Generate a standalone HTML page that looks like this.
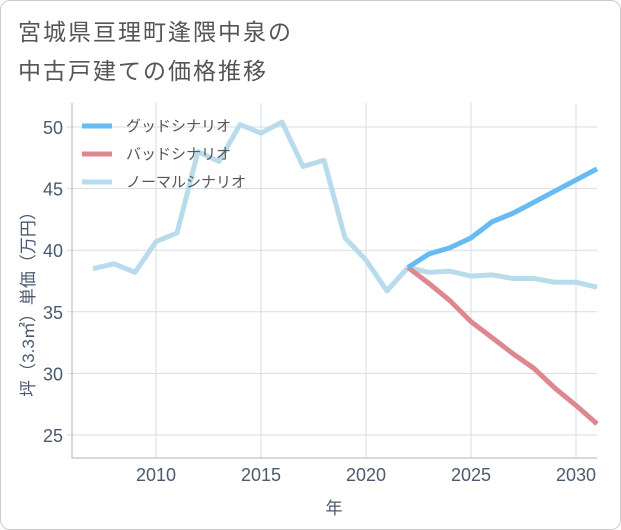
<!DOCTYPE html>
<html><head><meta charset="utf-8"><style>
body{margin:0;background:#fff;font-family:"Liberation Sans","Noto Sans CJK JP",sans-serif;}
.card{position:absolute;left:0;top:0;width:619px;height:528px;border:1px solid #ccc;border-radius:10px;background:#fff;}
.title{position:absolute;left:17px;top:12px;font-size:23px;letter-spacing:2px;line-height:39px;color:#555;}
</style></head><body>
<div class="card">
<div class="title">宮城県亘理町逢隈中泉の<br>中古戸建ての価格推移</div>
<svg id="chart" width="621" height="530" style="position:absolute;left:-1px;top:-1px"></svg>
</div>
<script>
const years=[2007,2008,2009,2010,2011,2012,2013,2014,2015,2016,2017,2018,2019,2020,2021,2022,2023,2024,2025,2026,2027,2028,2029,2030,2031];
const normal=[38.5,38.9,38.2,40.7,41.4,48.0,47.2,50.2,49.5,50.4,46.8,47.3,41.0,39.2,36.7,38.6,38.2,38.3,37.9,38.0,37.7,37.7,37.4,37.4,37.0];
const futureYears=[2022,2023,2024,2025,2026,2027,2028,2029,2030,2031];
const good=[38.6,39.7,40.2,41.0,42.3,43.0,43.9,44.8,45.7,46.6];
const bad=[38.6,37.3,35.9,34.2,32.9,31.6,30.4,28.8,27.4,25.9];
const xTicks=[2010,2015,2020,2025,2030];
const yTicks=[25,30,35,40,45,50];
const L=72,R=597,T=103,B=458;
const x=v=>156+(v-2010)*21;
const y=v=>127+(50-v)*12.32;
const svg=document.getElementById('chart');
const NS='http://www.w3.org/2000/svg';
function mk(t,a){const e=document.createElementNS(NS,t);for(const k in a)e.setAttribute(k,a[k]);svg.appendChild(e);return e;}
xTicks.forEach(v=>{const l=mk('line',{x1:x(v),x2:x(v),y1:T,y2:B,stroke:'#d5dde6','stroke-width':1});


const t=mk('text',{x:x(v),y:B+23,'text-anchor':'middle','font-size':18,fill:'#4a5a6e'});t.textContent=v;

});
yTicks.forEach(v=>{const l=mk('line',{x1:L-5,x2:R,y1:y(v),y2:y(v),stroke:'#d5dde6','stroke-width':1});


const t=mk('text',{x:L-9,y:y(v)+7,'text-anchor':'end','font-size':18,fill:'#4a5a6e'});t.textContent=v;

});
const ax=mk('path',{d:`M${L} ${T}V${B}H${R}`,fill:'none',stroke:'#aab4c0','stroke-width':1});


function line(xs,ys,c,n){const p=mk('polyline',{points:xs.map((v,i)=>x(v)+','+y(ys[i])).join(' '),fill:'none',stroke:c,'stroke-width':5,'stroke-linejoin':'round'});

}
line(years,normal,'#b9dcec','normal-line');
line(futureYears,bad,'#dd8890','bad-line');
line(futureYears,good,'#66bbf0','good-line');
const leg=[['グッドシナリオ','#66bbf0'],['バッドシナリオ','#dd8890'],['ノーマルシナリオ','#b9dcec']];
leg.forEach((d,i)=>{const yy=126+i*28;
const l=mk('line',{x1:82,x2:112,y1:yy,y2:yy,stroke:d[1],'stroke-width':5});


const t=mk('text',{x:126,y:yy+5,'font-size':15,fill:'#555'});t.textContent=d[0];

});
const xt=mk('text',{x:334,y:514,'text-anchor':'middle','font-size':17,fill:'#4a5a6e'});xt.textContent='年';


const yt=mk('text',{x:0,y:0,'text-anchor':'middle','font-size':17,fill:'#4a5a6e',transform:'translate(34,300) rotate(-90)'});yt.textContent='坪（3.3㎡）単価（万円）';


</script>
</body></html>
